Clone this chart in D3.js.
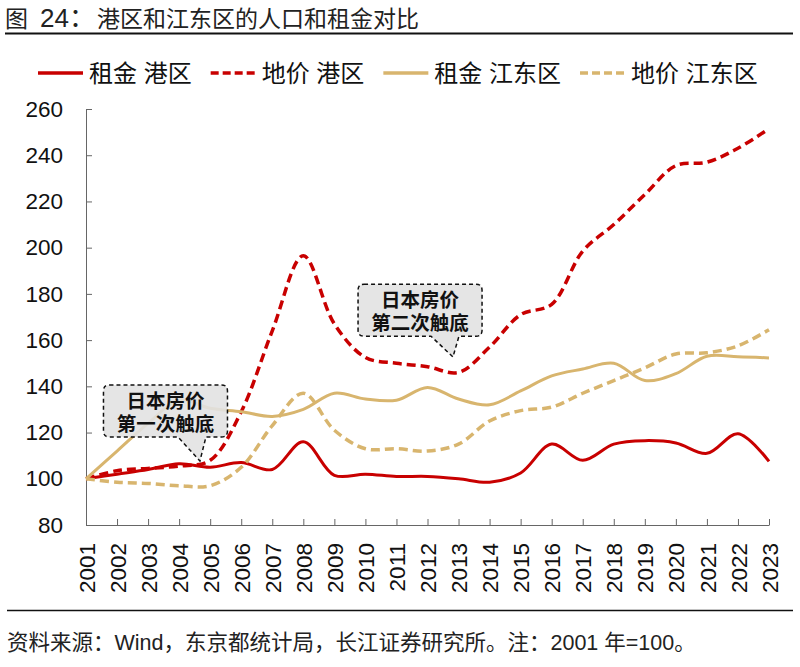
<!DOCTYPE html>
<html>
<head>
<meta charset="utf-8">
<script src="https://cdn.jsdelivr.net/npm/d3@7"></script>
<style>
  html, body { margin: 0; padding: 0; background: #fff; }
  svg { display: block; }
  text { font-family: "Liberation Sans", "Noto Sans CJK SC", sans-serif; }
</style>
</head>
<body>
<svg id="chart" width="800" height="667"></svg>
<script>
// ---------------- data ----------------
const years = [2001, 2002, 2003, 2004, 2005, 2006, 2007, 2008, 2009, 2010, 2011, 2012,
               2013, 2014, 2015, 2016, 2017, 2018, 2019, 2020, 2021, 2022, 2023];

const rentMinato = [100, 102, 104, 106.5, 105, 107, 104, 116, 101.5, 102, 101, 101,
                    100, 98.5, 102.5, 115, 108, 115, 116.5, 115.5, 111, 119.5, 107.5];
const landMinato = [100, 103.5, 104.5, 105.5, 108, 129, 164, 196.5, 167, 152.5, 150, 148.5,
                    146, 157, 171, 175.5, 198.5, 210, 223, 235.5, 237, 243, 251.5];
const rentKoto   = [100, 112, 124, 134, 130.5, 129, 127, 130, 137, 134.5, 134, 139.5,
                    134.5, 132, 138, 144.5, 147.5, 150, 142.5, 145.5, 153, 152.8, 152.3];
const landKoto   = [100, 98.5, 98, 97, 97, 105, 123, 137, 121, 113, 113, 112,
                    115, 125, 129.5, 131, 137, 142.5, 148, 154, 154.5, 157.5, 164.5];

const seriesNames = ["租金 港区", "地价 港区", "租金 江东区", "地价 江东区"];
const yTicks = [80, 100, 120, 140, 160, 180, 200, 220, 240, 260];

const titleParts = ["图", "24：", "港区和江东区的人口和租金对比"];
const sourceText = "资料来源：Wind，东京都统计局，长江证券研究所。注：2001 年=100。";

const annotations = [
  { lines: ["日本房价", "第一次触底"], boxYear: 2003.56, boxTop: 140.6, tipYear: 2004.67, tipVal: 107.7 },
  { lines: ["日本房价", "第二次触底"], boxYear: 2011.76, boxTop: 184.2, tipYear: 2012.82, tipVal: 152.7 }
];

// ---------------- styles ----------------
const RED = "#c80000", GOLD = "#d8b56e";
const series = [
  { name: seriesNames[0], values: rentMinato, color: RED,  dash: null,  width: 3 },
  { name: seriesNames[1], values: landMinato, color: RED,  dash: "9,5", width: 3.5 },
  { name: seriesNames[2], values: rentKoto,   color: GOLD, dash: null,  width: 3 },
  { name: seriesNames[3], values: landKoto,   color: GOLD, dash: "9,5", width: 3.5 }
];

const svg = d3.select("#chart");
const x = d3.scaleLinear().domain([2001, 2023]).range([86, 769]);
const y = d3.scaleLinear().domain([80, 260]).range([525, 109]);

// title
const title = svg.append("text").attr("y", 27).attr("font-size", 23).attr("fill", "#222");
title.append("tspan").attr("x", 5).text(titleParts[0]);
title.append("tspan").attr("x", 40).attr("font-size", 26).text(titleParts[1]);
title.append("tspan").attr("x", 97).text(titleParts[2]);
svg.append("line").attr("x1", 5).attr("x2", 793).attr("y1", 33.5).attr("y2", 33.5)
  .attr("stroke", "#111").attr("stroke-width", 2);

// legend
const legend = svg.append("g");
let lx = 38;
series.forEach(s => {
  legend.append("line").attr("x1", lx).attr("x2", lx + 45).attr("y1", 73).attr("y2", 73)
    .attr("stroke", s.color).attr("stroke-width", 3.5)
    .attr("stroke-dasharray", s.dash ? "8,4" : null);
  const t = legend.append("text").attr("x", lx + 51).attr("y", 82)
    .attr("font-size", 24).attr("fill", "#111").text(s.name);
  lx += 51 + t.node().getComputedTextLength() + 19;
});

// axes
const yAxis = d3.axisLeft(y).tickValues(yTicks).tickSizeInner(-6).tickSizeOuter(0).tickPadding(23);
const gy = svg.append("g").attr("transform", "translate(86,0)").call(yAxis);
gy.selectAll("text").attr("font-size", 22.5).attr("fill", "#111");
gy.select(".domain").attr("stroke", "#666");
gy.selectAll(".tick line").attr("stroke", "#666");

const xAxis = d3.axisBottom(x).tickValues(years).tickFormat(d3.format("d"))
  .tickSizeInner(-6).tickSizeOuter(0).tickPadding(0);
const gx = svg.append("g").attr("transform", "translate(0,525)").call(xAxis);
gx.select(".domain").attr("stroke", "#666");
gx.selectAll(".tick line").attr("stroke", "#666");
gx.selectAll("text")
  .attr("font-size", 22.5).attr("fill", "#111")
  .attr("text-anchor", "end")
  .attr("transform", "translate(0,18) rotate(-90)")
  .attr("x", 0).attr("y", 0).attr("dy", "0.36em");

// lines
const line = d3.line().x((d, i) => x(years[i])).y(d => y(d)).curve(d3.curveCatmullRom.alpha(0.5));
series.forEach(s => {
  svg.append("path").datum(s.values)
    .attr("d", line).attr("fill", "none")
    .attr("stroke", s.color).attr("stroke-width", s.width)
    .attr("stroke-dasharray", s.dash)
    .attr("stroke-linejoin", "round");
});

// callouts
const bw = 124, bh = 52, r = 6;
annotations.forEach(a => {
  const cx = x(a.boxYear), top = y(a.boxTop);
  const l = cx - bw / 2, rt = cx + bw / 2, bot = top + bh;
  const tx = x(a.tipYear), ty = y(a.tipVal);
  const b1 = tx - 22, b2 = tx + 6;
  const p = d3.path();
  p.moveTo(l + r, top);
  p.lineTo(rt - r, top);
  p.quadraticCurveTo(rt, top, rt, top + r);
  p.lineTo(rt, bot - r);
  p.quadraticCurveTo(rt, bot, rt - r, bot);
  p.lineTo(b2, bot);
  p.lineTo(tx, ty);
  p.lineTo(b1, bot);
  p.lineTo(l + r, bot);
  p.quadraticCurveTo(l, bot, l, bot - r);
  p.lineTo(l, top + r);
  p.quadraticCurveTo(l, top, l + r, top);
  p.closePath();
  svg.append("path").attr("d", p.toString())
    .attr("fill", "rgba(226,226,226,0.9)").attr("stroke", "#111")
    .attr("stroke-width", 1.5).attr("stroke-dasharray", "4,3");
  a.lines.forEach((txt, i) => {
    svg.append("text").attr("x", cx).attr("y", top + 23 + i * 23)
      .attr("text-anchor", "middle").attr("font-size", 19.5).attr("font-weight", "bold")
      .attr("fill", "#111").text(txt);
  });
});

// footer
svg.append("line").attr("x1", 7).attr("x2", 793).attr("y1", 610.5).attr("y2", 610.5)
  .attr("stroke", "#111").attr("stroke-width", 1.5);
svg.append("text").attr("x", 7).attr("y", 650)
  .attr("font-size", 21.5).attr("fill", "#222").text(sourceText);
</script>
</body>
</html>
